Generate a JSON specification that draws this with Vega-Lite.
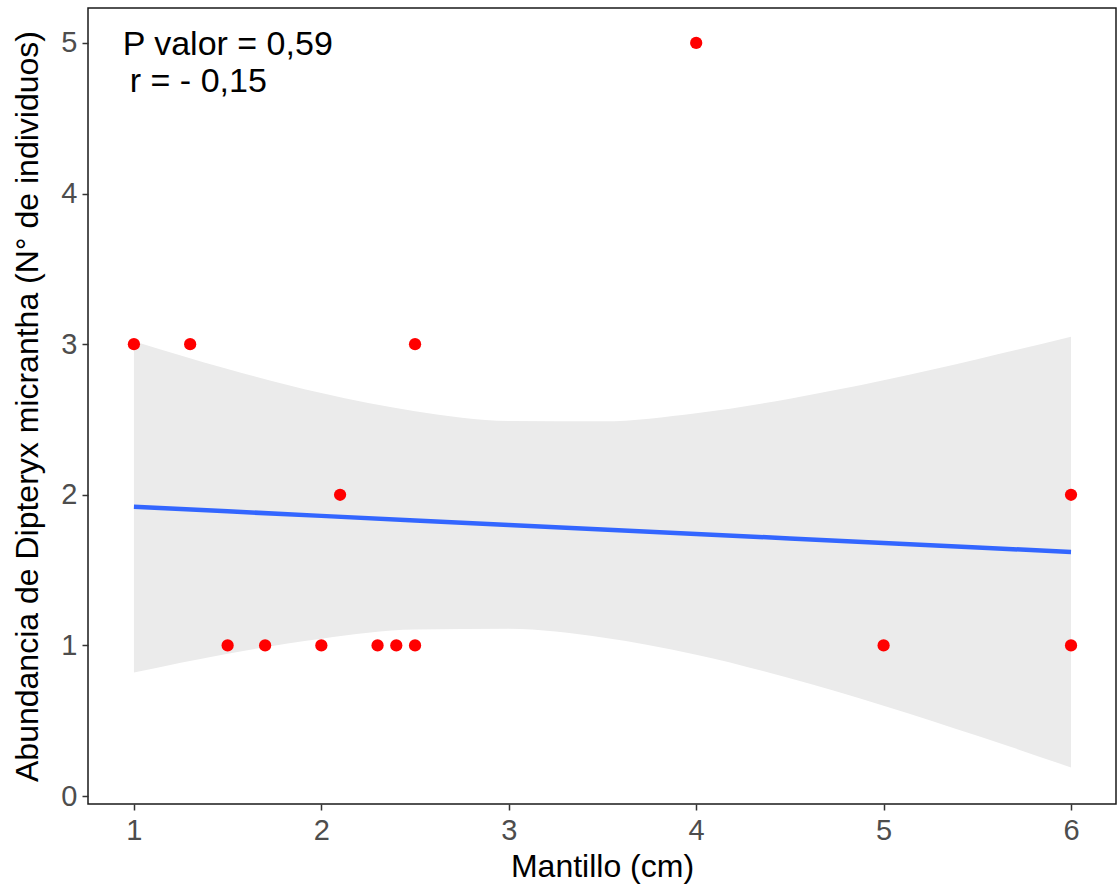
{
  "$schema": "https://vega.github.io/schema/vega-lite/v6.json",
  "width": 1028,
  "height": 796,
  "autosize": "none",
  "padding": {"left": 88, "top": 8, "right": 1, "bottom": 81},
  "background": "white",
  "config": {
    "font": "Liberation Sans",
    "view": {"stroke": "#1a1a1a", "strokeWidth": 1.5},
    "axis": {
      "grid": false,
      "domain": false,
      "tickColor": "#333333",
      "tickSize": 6,
      "tickWidth": 1.5,
      "labelColor": "#4D4D4D",
      "labelFontSize": 29,
      "titleFontSize": 32,
      "titleColor": "black",
      "titleFontWeight": "normal"
    }
  },
  "datasets": {
    "pts": [
      {"mantillo": 1.0, "abund": 3},
      {"mantillo": 1.3, "abund": 3},
      {"mantillo": 1.5, "abund": 1},
      {"mantillo": 1.7, "abund": 1},
      {"mantillo": 2.0, "abund": 1},
      {"mantillo": 2.1, "abund": 2},
      {"mantillo": 2.3, "abund": 1},
      {"mantillo": 2.4, "abund": 1},
      {"mantillo": 2.5, "abund": 1},
      {"mantillo": 2.5, "abund": 3},
      {"mantillo": 4.0, "abund": 5},
      {"mantillo": 5.0, "abund": 1},
      {"mantillo": 6.0, "abund": 2},
      {"mantillo": 6.0, "abund": 1}
    ],
    "fit": [
      {"mantillo": 1.0, "fit": 1.92, "lo": 0.82, "hi": 3.02},
      {"mantillo": 1.5, "fit": 1.89, "lo": 0.945, "hi": 2.835},
      {"mantillo": 2.0, "fit": 1.86, "lo": 1.045, "hi": 2.675},
      {"mantillo": 2.5, "fit": 1.83, "lo": 1.105, "hi": 2.555},
      {"mantillo": 3.0, "fit": 1.80, "lo": 1.11, "hi": 2.49},
      {"mantillo": 3.5, "fit": 1.77, "lo": 1.052, "hi": 2.488},
      {"mantillo": 4.0, "fit": 1.74, "lo": 0.938, "hi": 2.542},
      {"mantillo": 4.5, "fit": 1.71, "lo": 0.782, "hi": 2.638},
      {"mantillo": 5.0, "fit": 1.68, "lo": 0.60, "hi": 2.76},
      {"mantillo": 5.5, "fit": 1.65, "lo": 0.40, "hi": 2.90},
      {"mantillo": 6.0, "fit": 1.62, "lo": 0.19, "hi": 3.05}
    ],
    "notes": [
      {"mantillo": 0.94, "abund": 4.918, "label": "P valor = 0,59"},
      {"mantillo": 0.978, "abund": 4.672, "label": "r = - 0,15"}
    ]
  },
  "layer": [
    {
      "data": {"name": "fit"},
      "mark": {"type": "area", "color": "#EBEBEB", "opacity": 1, "interpolate": "monotone"},
      "encoding": {
        "x": {
          "field": "mantillo", "type": "quantitative",
          "scale": {"domain": [0.755, 6.24], "nice": false, "zero": false},
          "axis": {"values": [1, 2, 3, 4, 5, 6], "format": "d", "title": "Mantillo (cm)", "labelPadding": 6, "titlePadding": 6}
        },
        "y": {
          "field": "lo", "type": "quantitative",
          "scale": {"domain": [-0.053, 5.232], "nice": false, "zero": false},
          "axis": {"values": [0, 1, 2, 3, 4, 5], "format": "d", "title": "Abundancia de  Dipteryx micrantha (N° de individuos)", "labelPadding": 5, "titlePadding": 16}
        },
        "y2": {"field": "hi"}
      }
    },
    {
      "data": {"name": "fit"},
      "mark": {"type": "line", "color": "#3366FF", "strokeWidth": 4.5},
      "encoding": {
        "x": {"field": "mantillo", "type": "quantitative"},
        "y": {"field": "fit", "type": "quantitative"}
      }
    },
    {
      "data": {"name": "pts"},
      "mark": {"type": "circle", "color": "#FF0000", "opacity": 1, "size": 150},
      "encoding": {
        "x": {"field": "mantillo", "type": "quantitative"},
        "y": {"field": "abund", "type": "quantitative"}
      }
    },
    {
      "data": {"name": "notes"},
      "mark": {"type": "text", "align": "left", "baseline": "alphabetic", "fontSize": 34, "color": "black"},
      "encoding": {
        "x": {"field": "mantillo", "type": "quantitative"},
        "y": {"field": "abund", "type": "quantitative"},
        "text": {"field": "label"}
      }
    }
  ]
}
